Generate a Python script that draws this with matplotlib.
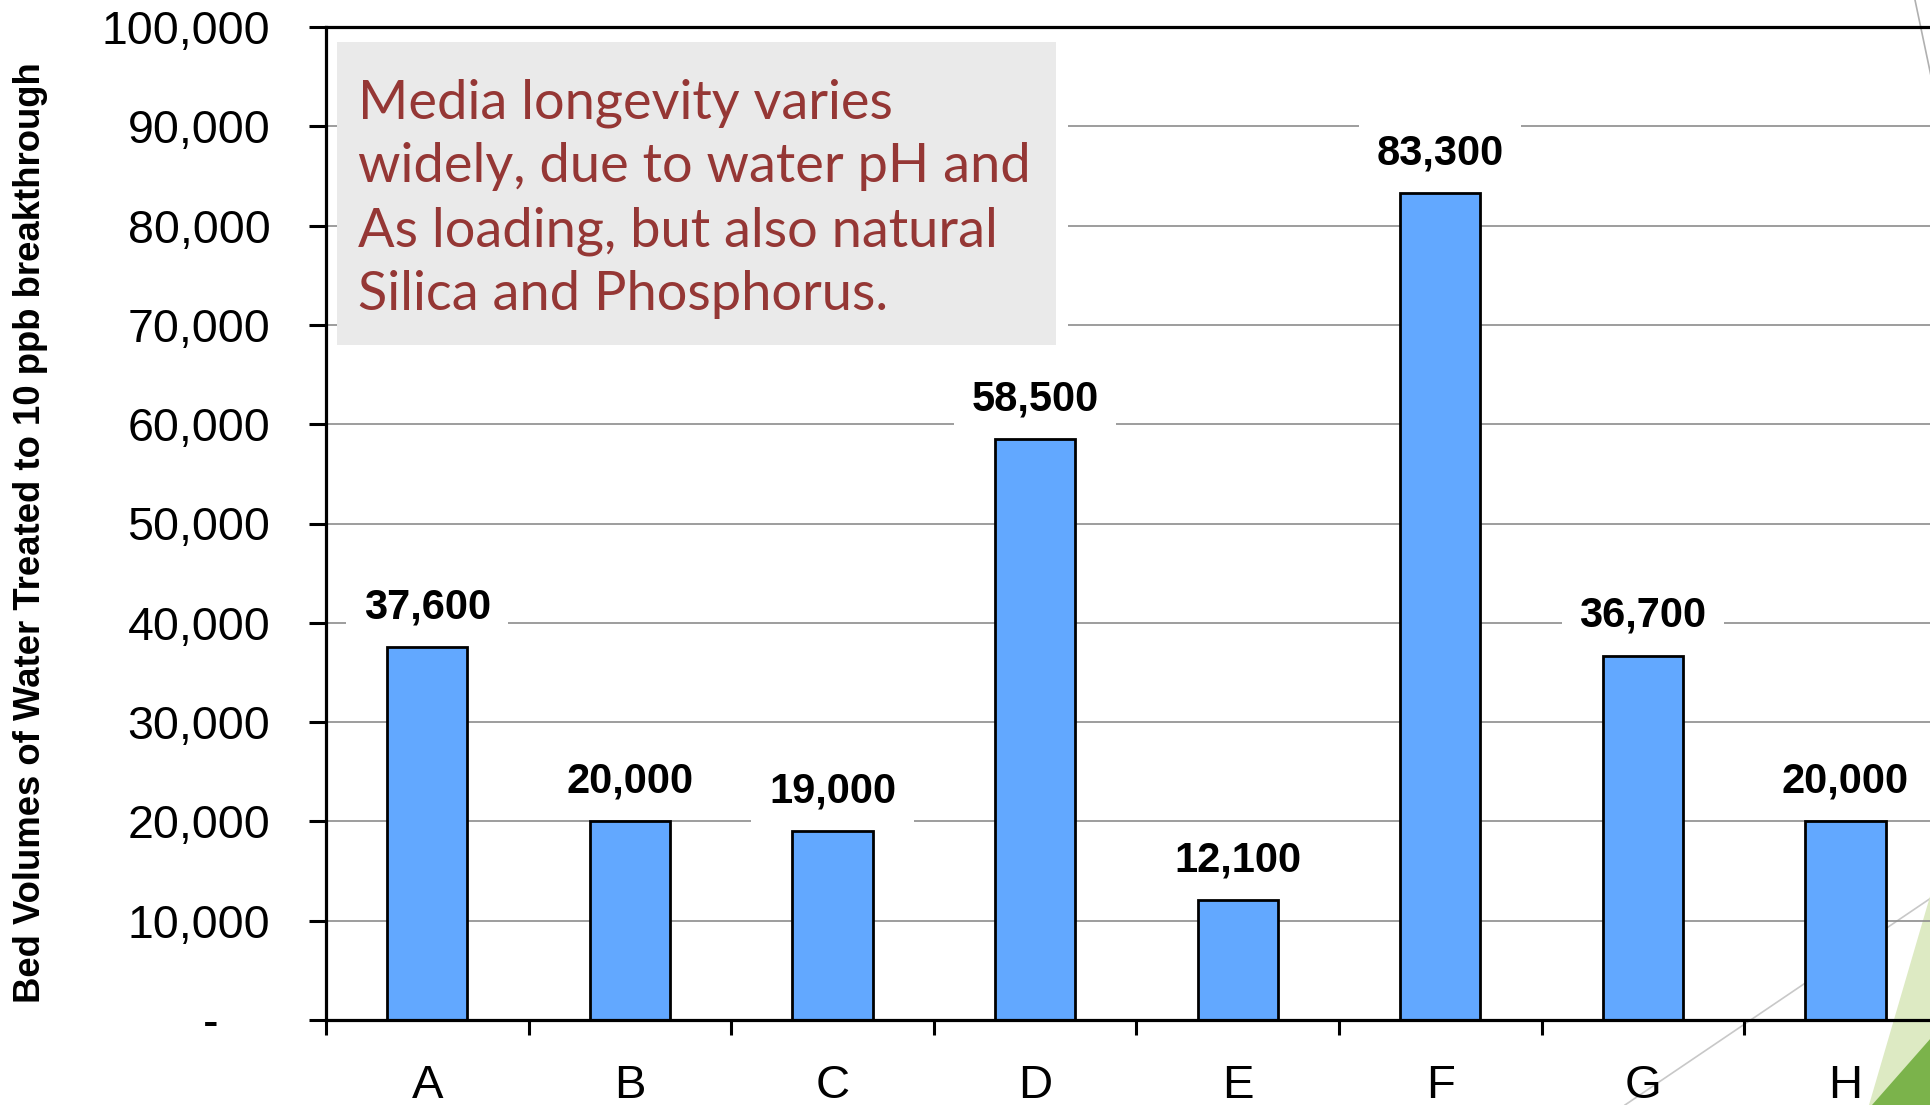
import matplotlib
matplotlib.use("Agg")
import matplotlib.pyplot as plt
from matplotlib.ticker import FuncFormatter, FixedLocator
from matplotlib.patches import Polygon, Rectangle
from matplotlib.lines import Line2D

# ---- data ----
categories = ["A", "B", "C", "D", "E", "F", "G", "H"]
bed_volumes = [37600, 20000, 19000, 58500, 12100, 83300, 36700, 20000]
y_ticks = [0, 10000, 20000, 30000, 40000, 50000, 60000, 70000, 80000, 90000, 100000]
y_label = "Bed Volumes of Water Treated to 10 ppb breakthrough"
note_text = ("Media longevity varies\n"
             "widely, due to water pH and\n"
             "As loading, but also natural\n"
             "Silica and Phosphorus.")

W, H = 1931, 1105
fig = plt.figure(figsize=(W / 100, H / 100), dpi=100)
fig.patch.set_facecolor("white")

ARIAL = ["Liberation Sans", "DejaVu Sans"]

# ---- slide decorations (behind the chart) ----
def fx(x): return x / W
def fy(y): return 1 - y / H

fig.patches.append(Polygon([(fx(1869), fy(1105)), (fx(1931), fy(893)), (fx(1931), fy(1105))],
                           closed=True, transform=fig.transFigure, facecolor="#DDEAC3",
                           edgecolor="none", zorder=0))
fig.patches.append(Polygon([(fx(1872), fy(1105)), (fx(1931), fy(1038)), (fx(1931), fy(1105))],
                           closed=True, transform=fig.transFigure, facecolor="#7BB34B",
                           edgecolor="none", zorder=0.1))
fig.lines.append(Line2D([fx(1625), fx(1931)], [fy(1105), fy(898)], transform=fig.transFigure,
                        color="#C8C8C8", lw=1.2, zorder=0))
fig.lines.append(Line2D([fx(1915), fx(1931)], [fy(0), fy(76)], transform=fig.transFigure,
                        color="#B0B0B0", lw=1.2, zorder=0))

# ---- axes ----
left_px, bottom_px, top_px, step_px = 326, 1020, 27, 202.6
ax = fig.add_axes([left_px / W, (H - bottom_px) / H, 8 * step_px / W, (bottom_px - top_px) / H])
ax.set_facecolor("none")
ax.set_zorder(1)

x = range(len(categories))
ax.bar(x, bed_volumes, width=0.395, color="#62A8FF", edgecolor="black", linewidth=2.0, zorder=2)

ax.set_xlim(-0.5, 7.5)
ax.set_ylim(0, 100000)

for s in ["left", "top", "bottom"]:
    ax.spines[s].set_linewidth(2.3)
    ax.spines[s].set_color("black")
ax.spines["right"].set_visible(False)

ax.yaxis.set_major_locator(FixedLocator(y_ticks))
ax.yaxis.set_major_formatter(FuncFormatter(lambda v, p: "-    " if v == 0 else f"{v:,.0f}"))
ax.tick_params(axis="y", direction="out", length=12, width=2.2, pad=28,
               labelsize=33.5, labelcolor="black")
ax.grid(axis="y", color="#8C8C8C", linewidth=1.2, zorder=0.5)
ax.set_axisbelow(True)

ax.set_xticks(list(x))
ax.set_xticklabels(categories)
ax.set_xticks([i - 0.5 for i in range(len(categories) + 1)], minor=True)
ax.tick_params(axis="x", which="major", length=0, pad=32, labelsize=34)
ax.tick_params(axis="x", which="minor", direction="out", length=11, width=2.2)

for lab in ax.get_xticklabels() + ax.get_yticklabels():
    lab.set_fontfamily(ARIAL)

# value labels
for xi, v in zip(x, bed_volumes):
    ax.annotate(f"{v:,.0f}", xy=(xi, v), xytext=(0, 28.5), textcoords="offset points",
                ha="center", va="center", fontsize=30, fontweight="bold",
                family=ARIAL, zorder=4,
                bbox=dict(boxstyle="square,pad=0.42", facecolor="white", edgecolor="none"))

# y-axis title
fig.text(31 / W, 1 - 533 / H, y_label, rotation=90, ha="center", va="center",
         fontsize=26.3, fontweight="bold", family=ARIAL)

# note box (with white margin on its right side)
fig.patches.append(Rectangle((fx(1055), fy(345)), (1068 - 1055) / W, (345 - 42) / H,
                             transform=fig.transFigure, facecolor="white",
                             edgecolor="none", zorder=5))
fig.patches.append(Rectangle((fx(337), fy(345)), (1056 - 337) / W, (345 - 42) / H,
                             transform=fig.transFigure, facecolor="#EAEAEA",
                             edgecolor="none", zorder=5.1))
fig.text(fx(358), fy(78), note_text, ha="left", va="top", fontsize=39, color="#953735",
         family=["Lato", "DejaVu Sans"], linespacing=1.37, zorder=6)

fig.savefig("out.png", dpi=100)
